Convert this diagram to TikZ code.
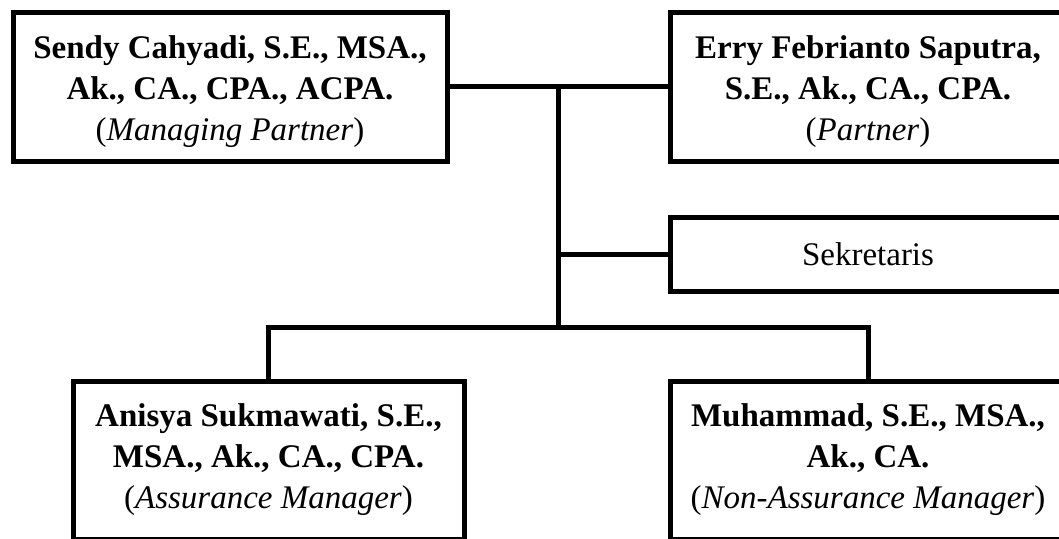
\documentclass[tikz,border=0pt]{standalone}
\usepackage{fontspec}
\setmainfont{Liberation Serif}
\usepackage{tikz}
\usetikzlibrary{positioning, calc}

\begin{document}
\begin{tikzpicture}[x=1pt, y=-1pt,
    orgbox/.style={draw, line width=5pt, inner sep=0pt},
    orgtext/.style={align=center, inner sep=0pt, font=\fontsize{33}{41}\selectfont},
    link/.style={line width=5pt}]
  % frame of the picture
  \useasboundingbox (0,0) rectangle (1059,538);
  \clip (0,0) rectangle (1059,538);

  % partners
  \node[orgbox, minimum width=434pt, minimum height=149pt] (managing) at (230,86.5) {};
  \node[orgtext] (managing-text) at ($(managing)+(0,5)$)
    {\textbf{Sendy Cahyadi, S.E., MSA.,}\\ \textbf{Ak., CA., CPA., ACPA.}\\ (\textit{Managing Partner})};
  \node[orgbox, minimum width=396pt, minimum height=149pt] (partner) at (868,86.5) {};
  \node[orgtext] (partner-text) at ($(partner)+(0,5)$)
    {\textbf{Erry Febrianto Saputra,}\\ \textbf{S.E., Ak., CA., CPA.}\\ (\textit{Partner})};

  % secretary
  \node[orgbox, minimum width=396pt, minimum height=74pt] (sekretaris) at (868,254) {};
  \node[orgtext] (sekretaris-text) at (sekretaris) {Sekretaris};

  % managers
  \node[orgbox, minimum width=391pt, minimum height=158pt] (assurance) at (268.5,460) {};
  \node[orgtext] (assurance-text) at (assurance)
    {\textbf{Anisya Sukmawati, S.E.,}\\ \textbf{MSA., Ak., CA., CPA.}\\ (\textit{Assurance Manager})};
  \node[orgbox, minimum width=396pt, minimum height=158pt] (nonassurance) at (868,460) {};
  \node[orgtext] (nonassurance-text) at (nonassurance)
    {\textbf{Muhammad, S.E., MSA.,}\\ \textbf{Ak., CA.}\\ (\textit{Non-Assurance Manager})};

  % connectors
  \coordinate (cabang) at (558,86.5);
  \coordinate (bawah) at (558,327);
  \draw[link] (managing.east) -- (partner.west);
  \draw[link] (cabang) -- (bawah);
  \draw[link] (sekretaris.west) -- (sekretaris.west -| cabang);
  \draw[link] (assurance.north) |- (bawah) -| (nonassurance.north);
\end{tikzpicture}
\end{document}
